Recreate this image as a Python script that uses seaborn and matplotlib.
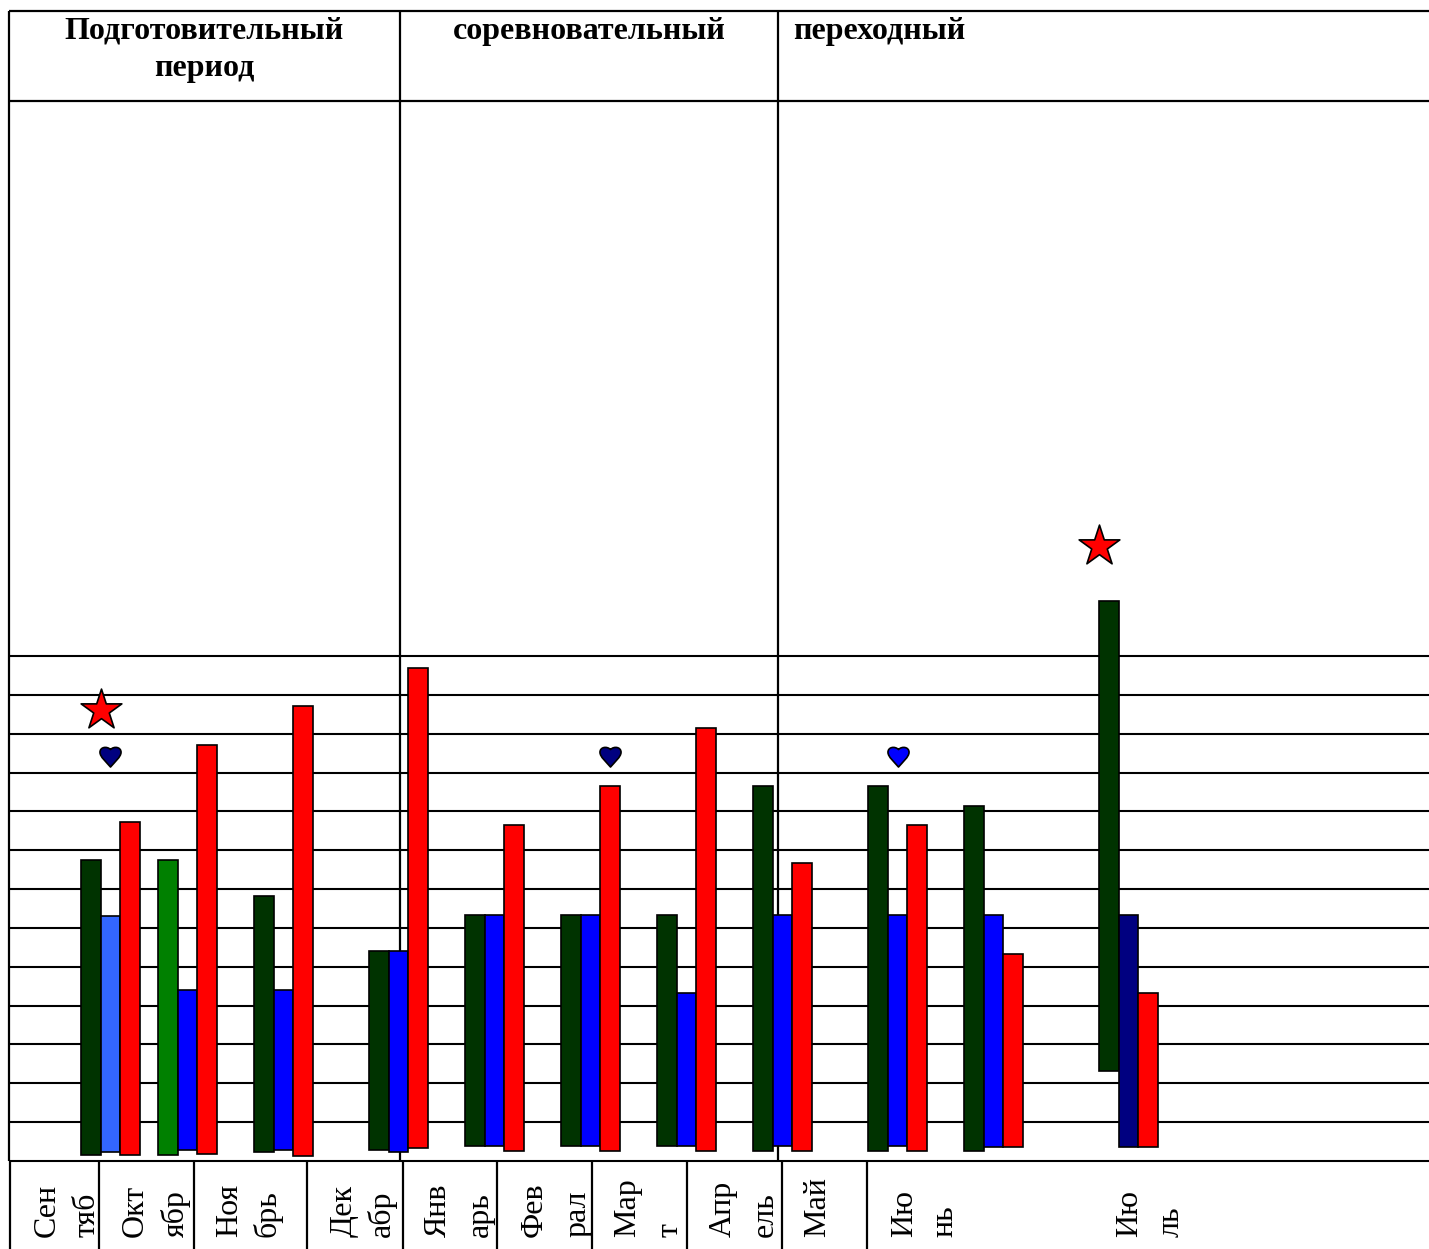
import matplotlib
matplotlib.use("Agg")
import matplotlib.pyplot as plt
import pandas as pd
import seaborn as sns
from matplotlib.path import Path

W, H = 1429, 1249
ZERO_PX = 1161
UNIT_PX = 38.85

# values in grid units
months_top = ["Сен", "Окт", "Ноя", "Дек", "Янв", "Фев", "Мар", "Апр", "Май", "Ию", "Ию"]
months_bottom = ["тяб", "ябр", "брь", "абр", "арь", "рал", "т", "ель", "", "нь", "ль"]
green_top = [7.75, 7.75, 6.82, 5.41, 6.33, 6.33, 6.33, 9.65, 9.65, 9.14, 14.41]
green_base = [0.15, 0.15, 0.23, 0.28, 0.39, 0.39, 0.39, 0.26, 0.26, 0.26, 2.32]
blue_top = [6.31, 4.40, 4.40, 5.41, 6.33, 6.33, 4.33, 6.33, 6.33, 6.33, 6.33]
blue_base = [0.23, 0.28, 0.28, 0.23, 0.39, 0.39, 0.39, 0.39, 0.39, 0.37, 0.37]
red_top = [8.73, 10.71, 11.71, 12.69, 8.66, 9.65, 11.15, 7.67, 8.66, 5.33, 4.32]
red_base = [0.15, 0.18, 0.13, 0.33, 0.26, 0.26, 0.26, 0.26, 0.26, 0.37, 0.37]
green_colors = ["#003300", "#008000", "#003300", "#003300", "#003300", "#003300",
                "#003300", "#003300", "#003300", "#003300", "#003300"]
blue_colors = ["#3366FF", "#0000FF", "#0000FF", "#0000FF", "#0000FF", "#0000FF",
               "#0000FF", "#0000FF", "#0000FF", "#0000FF", "#000080"]
periods = ["Подготовительный", "период", "соревновательный", "переходный"]

star_x = [101, 1099]
star_y = [11.62, 15.82]
heart_x = [110, 610, 898]
heart_y = [10.43, 10.43, 10.43]
heart_colors = ["#000080", "#000080", "#0000FF"]

# layout, in pixels
group_left = [81, 158, 254, 369, 465, 561, 657, 753, 868, 964, 1099]
bar_w = 19.6
label_x_top = [47, 135, 230, 344, 438, 534, 628, 723, 818, 905, 1130]
label_x_bottom = [87, 176, 268, 382, 480, 578, 670, 765, 0, 945, 1171]
cell_x = [10, 99, 194, 307, 403, 497, 592, 687, 782, 867]


def bar_table() -> pd.DataFrame:
    rows = []
    for i, left in enumerate(group_left):
        rows.append((left + bar_w / 2, green_top[i], green_base[i], green_colors[i]))
        rows.append((left + bar_w * 1.5, blue_top[i], blue_base[i], blue_colors[i]))
        rows.append((left + bar_w * 2.5, red_top[i], red_base[i], "#FF0000"))
    return pd.DataFrame(rows, columns=["x", "top", "base", "color"])


def heart_marker() -> Path:
    verts = [(0, -0.5), (-0.2, -0.26), (-0.5, -0.02), (-0.5, 0.2),
             (-0.5, 0.46), (-0.16, 0.5), (0, 0.33),
             (0.16, 0.5), (0.5, 0.46), (0.5, 0.2),
             (0.5, -0.02), (0.2, -0.26), (0, -0.5), (0, -0.5)]
    codes = [Path.MOVETO] + [Path.CURVE4] * 12 + [Path.CLOSEPOLY]
    return Path(verts, codes)


def draw_table(bg) -> None:
    lw = 1.6
    bg.hlines([11, 101], 9, W, color="black", lw=lw)
    bg.vlines(9, 11, ZERO_PX, color="black", lw=lw)
    bg.vlines([400, 778], 11, ZERO_PX, color="black", lw=lw)
    bg.vlines(cell_x, ZERO_PX, H, color="black", lw=lw)

    head = dict(family="Liberation Serif", weight="bold", fontsize=23, va="center", color="black")
    bg.text(204, 31, periods[0], ha="center", **head)
    bg.text(204, 68, periods[1], ha="center", **head)
    bg.text(589, 31, periods[2], ha="center", **head)
    bg.text(793, 31, periods[3], ha="left", **head)

    month = dict(family="Liberation Serif", fontsize=23, rotation=90, ha="center",
                 va="bottom", color="black")
    for x, name in zip(label_x_top, months_top):
        bg.text(x, 1237, name, **month)
    for x, name in zip(label_x_bottom, months_bottom):
        if name:
            bg.text(x, 1237, name, **month)


def draw_chart(ax) -> None:
    ax.hlines(range(14), 9, W, color="black", lw=1.5, zorder=1)
    for row in bar_table().itertuples():
        sns.barplot(x=[row.x], y=[row.top - row.base], bottom=row.base, width=bar_w,
                    native_scale=True, color=row.color, saturation=1, errorbar=None,
                    edgecolor="black", linewidth=1.2, zorder=2, ax=ax)

    sns.scatterplot(x=star_x, y=star_y, marker="*", s=950, color="#FF0000",
                    edgecolor="black", linewidth=1.2, zorder=3, ax=ax)
    for x, y, color in zip(heart_x, heart_y, heart_colors):
        sns.scatterplot(x=[x], y=[y], marker=heart_marker(), s=230, color=color,
                        edgecolor="black", linewidth=1.2, zorder=3, ax=ax)

    ax.set_xlim(0, W)
    ax.set_ylim((ZERO_PX - H) / UNIT_PX, ZERO_PX / UNIT_PX)
    ax.set_xlabel("")
    ax.set_ylabel("")
    ax.axis("off")


def main() -> None:
    sns.set_theme(style="white")
    fig = plt.figure(figsize=(W / 100, H / 100), dpi=100)

    bg = fig.add_axes([0, 0, 1, 1])
    bg.set_xlim(0, W)
    bg.set_ylim(H, 0)
    bg.axis("off")
    draw_table(bg)

    ax = fig.add_axes([0, 0, 1, 1])
    ax.patch.set_alpha(0)
    draw_chart(ax)

    fig.savefig("out.png", dpi=100)
    plt.close(fig)


if __name__ == "__main__":
    main()
